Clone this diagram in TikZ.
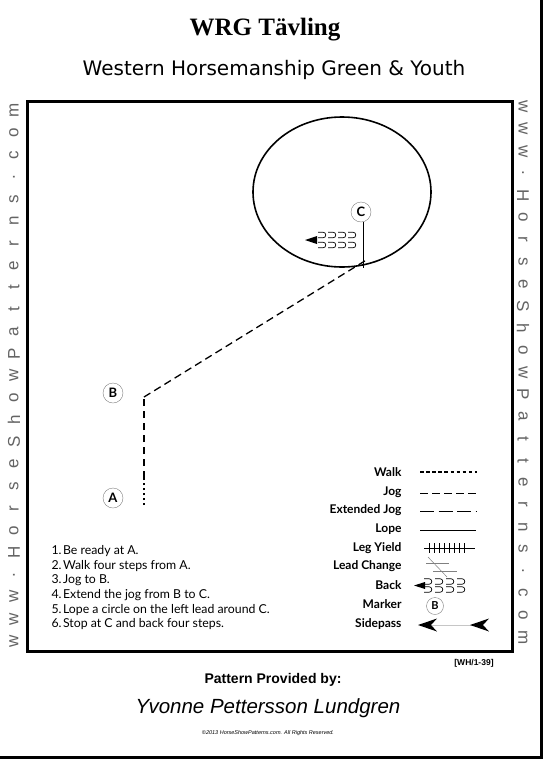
\documentclass[tikz,border=0pt]{standalone}
\usepackage{fontspec}
\setmainfont{Liberation Serif}
\newfontfamily\arial{Liberation Sans}
\newfontfamily\tah{DejaVu Sans}
\newfontfamily\myr{Lato}
\usetikzlibrary{arrows.meta}
\definecolor{wgray}{RGB}{100,100,100}
\tikzset{
  marker/.style={circle,draw=gray,thin,minimum size=20pt,inner sep=0pt,font=\myr\bfseries\fontsize{13}{13}\selectfont},
  legtext/.style={anchor=east,font=\myr\fontsize{12}{12}\selectfont\bfseries},
  instr/.style={anchor=west,font=\myr\fontsize{12.3}{12}\selectfont},
  vert/.style={text=wgray,font=\arial\fontsize{17}{17}\selectfont,inner sep=0pt},
  walkline/.style={line width=1.1pt,dash pattern=on 2.5pt off 2.5pt},
  jogline/.style={line width=1.3pt,dash pattern=on 7.5pt off 4.5pt},
}
\newcommand\bkshape[2]{\draw[line width=0.7pt] (#1,#2-2.8) -- ++(5,0) arc[start angle=-90,end angle=90,radius=2.8] -- ++(-5,0);}
\begin{document}
\begin{tikzpicture}[x=1pt,y=-1pt]
\useasboundingbox (0,0) rectangle (549,761);
\fill[white] (0,0) rectangle (549,761);
% page edges
\draw[line width=3pt] (541,0) -- (541,757) -- (0,757);
% titles
\node[font=\bfseries\fontsize{25}{25}\selectfont] (title) at (265,30) {WRG Tävling};
\node[font=\tah\fontsize{20}{20}\selectfont] (sub) at (274,70) {Western Horsemanship Green \& Youth};
% main box
\draw[line width=3pt] (27,101) rectangle (512,651);
% vertical texts
\foreach \c [count=\i from 0] in {w,w,w,.,H,o,r,s,e,S,h,o,w,P,a,t,t,e,r,n,s,.,c,o,m}{
  \node[vert,rotate=90] at (14,641-\i*22.1) {\c};
  \node[vert,rotate=-90] at (523,107+\i*22.1) {\c};
}
% circle
\draw[line width=1.6pt] (342,192) ellipse [x radius=89, y radius=75];
% markers
\node[marker] (C) at (361,212) {C};
\node[marker] (B) at (113,393) {B};
\node[marker] (A) at (113,498) {A};
% pattern
\coordinate (a0) at (144,505);
\coordinate (a1) at (144,478);
\coordinate (b0) at (144,397);
\coordinate (c0) at (368,259);
\coordinate (ctop) at (363,222);
\coordinate (cbot) at (363,268);
\draw[walkline] (a0) -- (a1);
\draw[jogline] (a1) -- (b0);
\draw[jogline] (b0) -- (c0);
\draw[line width=1pt] (ctop) -- (cbot);
% back at C
\foreach \k in {0,1,2,3}{\bkshape{318+\k*10}{235}\bkshape{318+\k*10}{245}}
\coordinate (bk) at (305,240);
\fill (bk) -- ++(12,-4) -- ++(0,8) -- cycle;
% legend
\node[legtext] (lw) at (405,472) {Walk};
\node[legtext] (lj) at (405,492) {Jog};
\node[legtext] (le) at (405,510) {Extended Jog};
\node[legtext] (ll) at (405,529) {Lope};
\node[legtext] (ly) at (405,548) {Leg Yield};
\node[legtext] (lc) at (405,566) {Lead Change};
\node[legtext] (lb) at (405,585) {Back};
\node[legtext] (lm) at (405,604) {Marker};
\node[legtext] (ls) at (405,624) {Sidepass};
\draw[line width=1.1pt,dash pattern=on 3.5pt off 2.6pt] (420,472) -- (477,472);
\draw[line width=1pt,dash pattern=on 8pt off 4pt] (420,493) -- (476,493);
\draw[line width=0.9pt,dash pattern=on 14pt off 4.5pt] (420,511) -- (476,511);
\draw[line width=0.9pt] (420,530) -- (476,530);
\draw[line width=1pt] (424,548) -- (475,548);
\foreach \t in {429,434,...,464}{\draw[line width=0.9pt] (\t,543) -- (\t,553);}
\draw[gray,line width=0.5pt] (426,563) -- (449,563);
\draw[gray,line width=0.5pt] (433,571) -- (457,571);
\draw[gray,line width=0.5pt] (428,557) -- (447,577);
\foreach \k in {0,1,2,3}{\bkshape{424+\k*11}{581.5}\bkshape{424+\k*11}{589.5}}
\fill (414,585.5) -- ++(11,-3.5) -- ++(0,7) -- cycle;
\node[marker,minimum size=17pt,font=\myr\bfseries\fontsize{11}{11}\selectfont] (mB) at (435,606) {B};
\draw[gray!45,line width=0.6pt] (420,625) -- (472,625);
\fill (418,625) -- (437,618.5) -- (431,625) -- (437,631.5) -- cycle;
\fill (470,625) -- (489,618.5) -- (483,625) -- (489,631.5) -- cycle;
% instructions
\node[instr] (i1) at (48,551) {1.\hspace{1.5pt}Be ready at A.};
\node[instr] (i2) at (48,565.7) {2.\hspace{1.5pt}Walk four steps from A.};
\node[instr] (i3) at (48,580.4) {3.\hspace{1.5pt}Jog to B.};
\node[instr] (i4) at (48,595.1) {4.\hspace{1.5pt}Extend the jog from B to C.};
\node[instr] (i5) at (48,609.8) {5.\hspace{1.5pt}Lope a circle on the left lead around C.};
\node[instr] (i6) at (48,624.5) {6.\hspace{1.5pt}Stop at C and back four steps.};
% footer
\node[font=\arial\bfseries\fontsize{8.5}{9}\selectfont] (code) at (474,663) {[WH/1-39]};
\node[font=\arial\bfseries\fontsize{14}{14}\selectfont] (prov) at (273,680) {Pattern Provided by:};
\node[font=\arial\itshape\fontsize{20.5}{21}\selectfont] (name) at (268,708) {Yvonne Pettersson Lundgren};
\node[font=\arial\itshape\fontsize{5.5}{6}\selectfont] (copy) at (268,733) {©2013 HorseShowPatterns.com. All Rights Reserved.};
\end{tikzpicture}
\end{document}
